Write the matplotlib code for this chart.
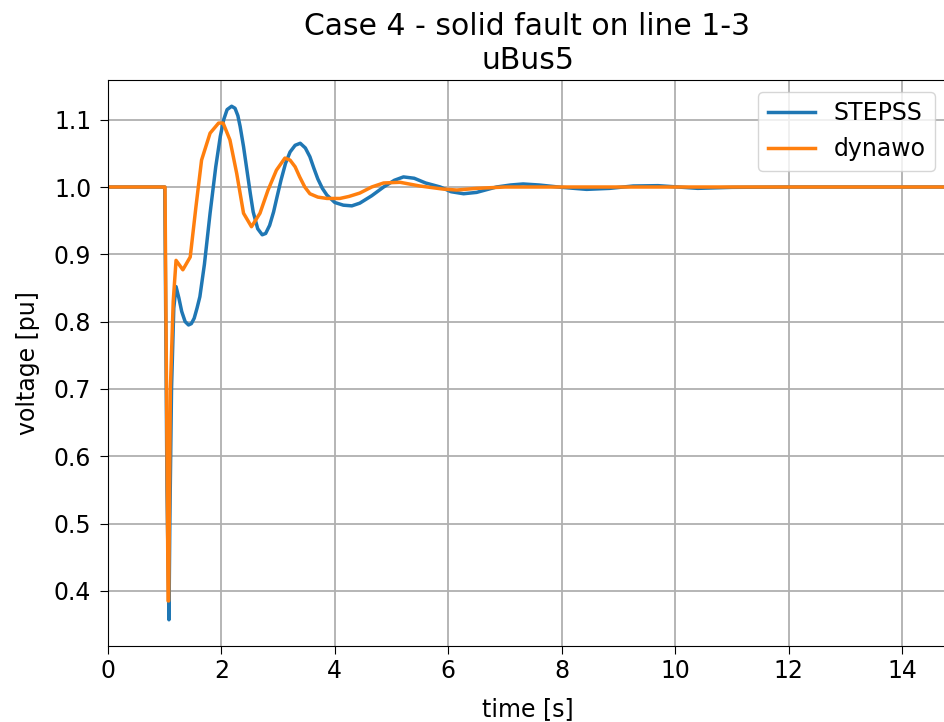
import matplotlib
matplotlib.use("Agg")
import matplotlib.pyplot as plt

# STEPSS series (time [s], voltage [pu])
t_stepss = [0.0, 1.0, 1.01, 1.04, 1.075, 1.09, 1.12, 1.16, 1.2, 1.25, 1.3, 1.36, 1.42, 1.47, 1.52,
            1.57, 1.62, 1.7, 1.8, 1.9, 1.98, 2.04, 2.1, 2.18, 2.24, 2.29, 2.33, 2.39, 2.45, 2.51,
            2.56, 2.64, 2.72, 2.78, 2.85, 2.92, 2.98, 3.05, 3.13, 3.21, 3.3, 3.39, 3.48, 3.56,
            3.63, 3.7, 3.78, 3.86, 4.0, 4.15, 4.3, 4.44, 4.65, 4.86, 5.05, 5.21, 5.4, 5.6, 5.86,
            6.05, 6.27, 6.5, 6.85, 7.1, 7.32, 7.6, 8.0, 8.44, 8.85, 9.26, 9.7, 10.4, 11.0, 12.0,
            13.0, 14.0, 14.8]
v_stepss = [1.0, 1.0, 0.9, 0.55, 0.357, 0.5, 0.7, 0.82, 0.852, 0.835, 0.815, 0.8, 0.795, 0.797,
            0.805, 0.82, 0.837, 0.885, 0.961, 1.03, 1.075, 1.1, 1.115, 1.12, 1.117, 1.106, 1.09,
            1.06, 1.025, 0.99, 0.963, 0.938, 0.929, 0.931, 0.943, 0.963, 0.985, 1.01, 1.035,
            1.052, 1.062, 1.065, 1.058, 1.045, 1.028, 1.012, 0.998, 0.988, 0.977, 0.973, 0.972,
            0.976, 0.987, 1.0, 1.01, 1.015, 1.013, 1.006, 1.0, 0.993, 0.99, 0.992, 1.0, 1.003,
            1.0045, 1.003, 0.9995, 0.9965, 0.998, 1.0015, 1.002, 0.998, 0.9995, 1.0, 1.0, 1.0, 1.0]

# dynawo series (time [s], voltage [pu])
t_dynawo = [0.0, 1.0, 1.005, 1.06, 1.07, 1.1, 1.15, 1.2, 1.32, 1.45, 1.55, 1.65, 1.8, 1.95,
            2.03, 2.15, 2.27, 2.39, 2.53, 2.68, 2.82, 2.97, 3.12, 3.21, 3.3, 3.38, 3.47, 3.56,
            3.7, 3.86, 4.09, 4.25, 4.44, 4.65, 4.86, 5.15, 5.5, 5.9, 6.15, 6.5, 7.0, 8.0, 10.0,
            12.0, 14.0, 14.8]
v_dynawo = [1.0, 1.0, 1.0, 0.385, 0.385, 0.7, 0.83, 0.891, 0.877, 0.896, 0.97, 1.04, 1.08, 1.095,
            1.095, 1.07, 1.02, 0.961, 0.941, 0.961, 0.995, 1.025, 1.043, 1.04, 1.03, 1.015, 1.0,
            0.99, 0.985, 0.983, 0.983, 0.986, 0.991, 1.0, 1.006, 1.007, 1.0015, 0.997, 0.9955,
            0.998, 1.0, 1.0, 1.0, 1.0, 1.0, 1.0]

x_ticks = [0, 2, 4, 6, 8, 10, 12, 14]
y_ticks = [0.4, 0.5, 0.6, 0.7, 0.8, 0.9, 1.0, 1.1]

fig = plt.figure(figsize=(9.45, 7.22), dpi=100)
ax = fig.add_axes([108 / 945, 1 - 646 / 722, 839 / 945, 566 / 722])
ax.plot(t_stepss, v_stepss, color="#1f77b4", lw=2.5, label="STEPSS")
ax.plot(t_dynawo, v_dynawo, color="#ff7f0e", lw=2.5, label="dynawo")
ax.set_xlim(0, 14.795)
ax.set_ylim(0.318, 1.159)
ax.set_xticks(x_ticks)
ax.set_yticks(y_ticks)
ax.tick_params(labelsize=17, length=6)
ax.tick_params(axis="y", pad=6)
ax.grid(True, color="#b0b0b0", lw=1.3)
ax.set_xlabel("time [s]", fontsize=17, labelpad=10)
ax.set_ylabel("voltage [pu]", fontsize=17, labelpad=10)
ax.set_title("Case 4 - solid fault on line 1-3\nuBus5", fontsize=21.5, pad=8)
ax.legend(loc="upper right", fontsize=17)
fig.savefig("out.png", dpi=100)
